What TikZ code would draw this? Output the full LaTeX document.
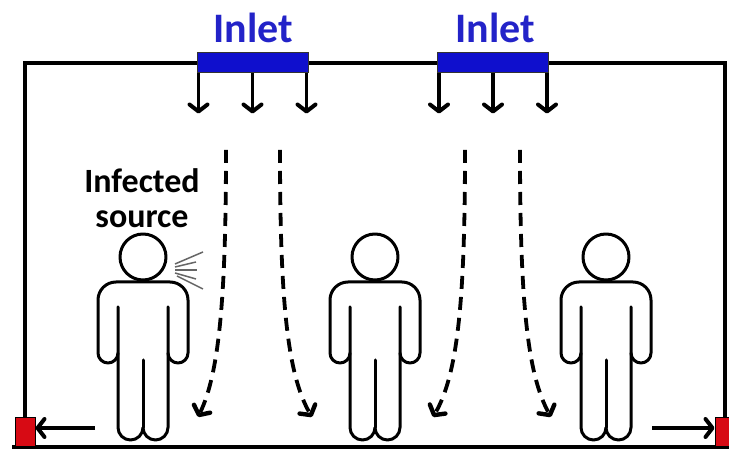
\documentclass[tikz,border=0pt]{standalone}
\usepackage{fontspec}
\setmainfont{Carlito}
\usetikzlibrary{arrows.meta,calc}

\definecolor{inletblue}{RGB}{15,15,205}
\definecolor{inlettxt}{RGB}{35,35,200}
\definecolor{exitred}{RGB}{215,10,20}

\tikzset{
  wall/.style = {line width = 3.4pt},
  inlet/.style = {draw = black!80, line width = 1pt, fill = inletblue,
    minimum width = 111pt, minimum height = 20pt, inner sep = 0pt},
  inlettext/.style = {text = inlettxt, font = \fontsize{42}{42}\selectfont\bfseries,
    anchor = base, inner sep = 0pt},
  exitbox/.style = {draw = black, line width = 1pt, fill = exitred,
    minimum width = 20pt, minimum height = 29pt, inner sep = 0pt},
  jet/.style = {line width = 3.4pt,
    -{Straight Barb[length = 7pt, width = 18pt, line width = 4pt, round]}},
  flow/.style = {line width = 3.8pt, dash pattern = on 13pt off 8pt,
    -{Straight Barb[length = 7pt, width = 18pt, line width = 4.4pt, round]}},
  body/.style = {line width = 3pt, line join = round, line cap = round},
  breath/.style = {line width = 1.5pt, black!60},
  person/.pic = {
    \draw[body] (0, 0) circle (23);
    % legs and the lines under the arms
    \draw[body] (-25, -50) -- (-25, -170.5) arc (180:360:12.5) arc (180:360:12.5) -- (25, -50);
    \draw[body] (0, -103) -- (0, -170.5);
    % shoulders and arms
    \draw[body] (-25, -96) arc (0:-180:10) -- (-45, -43) arc (180:90:18)
      -- (27, -25) arc (90:0:18) -- (45, -96) arc (0:-180:10);
  }
}

\begin{document}
\begin{tikzpicture}[x = 1pt, y = 1pt]
\useasboundingbox (0, 0) rectangle (729, 449);

% room
\draw[wall] (25, 31) -- (25, 386) -- (725, 386) -- (725, 31);
\draw[wall] (12, 2) -- (729, 2);

% supply
\node[inlet] (in1) at (252.5, 386) {};
\node[inlet] (in2) at (493, 386) {};
\node[inlettext] (lab1) at (253, 406) {Inlet};
\node[inlettext] (lab2) at (495, 406) {Inlet};
\foreach \i in {1, 2}
  \foreach \dx in {-54, 0, 54}
    \draw[jet] ($(in\i.south) + (\dx, 0)$) -- ++(0, -40);

% exhaust
\node[exitbox] (exL) at (25, 16.5) {};
\node[exitbox] (exR) at (725, 16.5) {};
\coordinate (outL) at (95, 21);
\coordinate (outR) at (652, 21);
\draw[jet] (outL) -- (outL -| exL.east);
\draw[jet] (outR) -- (outR -| exR.west);

% air paths
\coordinate (a1) at (226, 299);
\coordinate (a2) at (280, 299);
\coordinate (a3) at (465, 299);
\coordinate (a4) at (520, 299);
\draw[flow] (a1) .. controls (226, 150) and (219, 75) .. (198, 32);
\draw[flow] (a2) .. controls (280, 150) and (287, 75) .. (312, 32);
\draw[flow] (a3) .. controls (465, 150) and (458, 75) .. (433, 32);
\draw[flow] (a4) .. controls (520, 150) and (527, 75) .. (551, 32);

% occupants
\pic at (143, 192) {person};
\pic at (375, 192) {person};
\pic at (606, 192) {person};

\node[font = \fontsize{34}{35}\selectfont\bfseries, align = center, anchor = base,
  inner sep = 0pt] (src) at (142, 221) {Infected\\source};

% cough
\draw[breath] (175, 185) -- (203, 197);
\draw[breath] (175, 182) -- (196, 187);
\draw[breath] (175, 179) -- (197, 179);
\draw[breath] (175, 176) -- (196, 170);
\draw[breath] (177, 173) -- (203, 160);
\end{tikzpicture}
\end{document}
